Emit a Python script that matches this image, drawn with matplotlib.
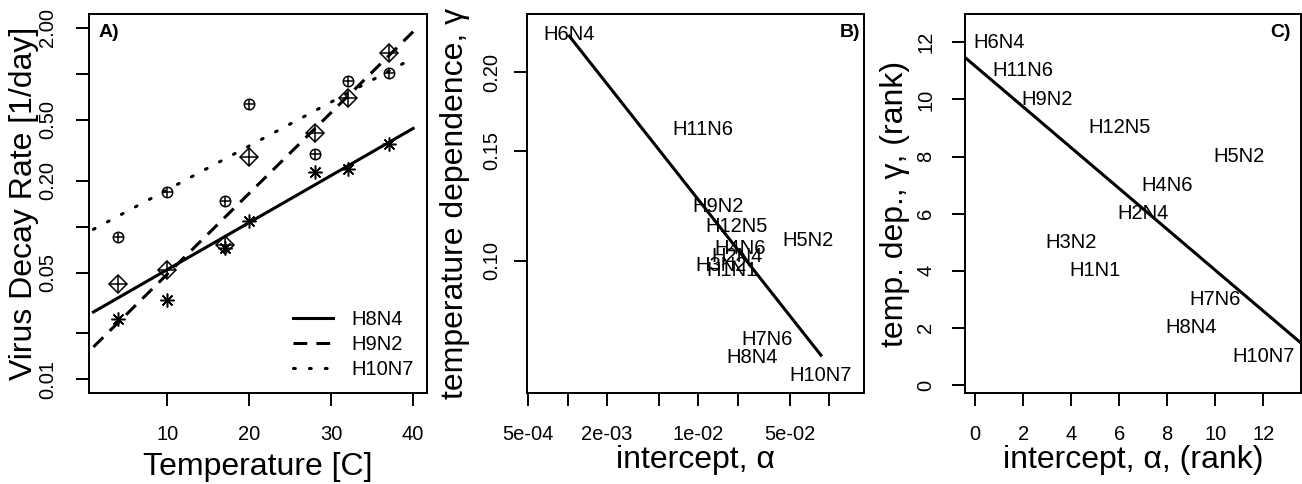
import numpy as np
import matplotlib
matplotlib.use('Agg')
import matplotlib.pyplot as plt
from matplotlib.ticker import FixedLocator, FixedFormatter, NullLocator

plt.rcParams['font.family'] = ['Liberation Sans', 'DejaVu Sans']

# --- A) decay rate vs temperature ---
temps = [4, 10, 17, 20, 28, 32, 37]
rate_h8n4 = [0.025, 0.033, 0.072, 0.109, 0.229, 0.238, 0.346]
rate_h9n2 = [0.042, 0.052, 0.076, 0.284, 0.412, 0.696, 1.37]
rate_h10n7 = [0.086, 0.169, 0.148, 0.633, 0.299, 0.90, 1.01]

# fitted log10(rate) = a + b*T
fit_names = ['H8N4', 'H9N2', 'H10N7']
fit_a = [-1.590, -1.841, -1.0465]
fit_b = [0.03083, 0.05294, 0.02875]
fit_trange = [1, 40]

a_yticks = [0.01, 0.02, 0.05, 0.1, 0.2, 0.5, 1.0, 2.0]
a_ylabels = ['0.01', '', '0.05', '', '0.20', '0.50', '', '2.00']
a_xticks = [10, 20, 30, 40]

# --- B) / C) per-strain intercept and temperature dependence ---
strains = ['H6N4', 'H11N6', 'H9N2', 'H12N5', 'H5N2', 'H4N6',
           'H2N4', 'H3N2', 'H1N1', 'H7N6', 'H8N4', 'H10N7']
alpha = [1.03e-3, 0.0108, 0.0143, 0.01955, 0.0689, 0.0211,
         0.0199, 0.0149, 0.0181, 0.0334, 0.0257, 0.087]
gamma = [0.2296, 0.162, 0.122, 0.1137, 0.1077, 0.1048,
         0.1015, 0.0985, 0.0965, 0.075, 0.0701, 0.0656]
alpha_rank = [1, 2, 3, 6, 11, 8, 7, 4, 5, 10, 9, 12]
gamma_rank = [12, 11, 10, 9, 8, 7, 6, 5, 4, 3, 2, 1]

# log10(gamma) = c0 + c1*log10(alpha)
b_fit = [-1.4305, -0.2642]
# rank fit: gamma_rank = r0 + r1*alpha_rank
c_fit = [11.17, -0.715]

b_xticks = [5e-4, 1e-3, 2e-3, 5e-3, 1e-2, 2e-2, 5e-2, 1e-1]
b_xlabels = ['5e-04', '', '2e-03', '', '1e-02', '', '5e-02', '']
b_yticks = [0.10, 0.15, 0.20]
b_ylabels = ['0.10', '0.15', '0.20']
c_ticks = [0, 2, 4, 6, 8, 10, 12]

LAB = 23
TICK = 14.5
TXT = 14.5

fig = plt.figure(figsize=(13.02, 4.84), dpi=100)
axA = fig.add_axes([0.0686, 0.1874, 0.2594, 0.7837])
axB = fig.add_axes([0.4045, 0.1874, 0.2591, 0.7837])
axC = fig.add_axes([0.7412, 0.1874, 0.2577, 0.7837])

for ax in (axA, axB, axC):
    for s in ax.spines.values():
        s.set_linewidth(1.4)
    ax.tick_params(direction='out', length=9.5, width=1.4, labelsize=TICK, colors='black')
    ax.tick_params(axis='x', pad=13)
    ax.tick_params(axis='y', labelrotation=90)

# ---- panel A ----
axA.set_yscale('log')
styles = [dict(linestyle='-'),
          dict(linestyle=(0, (4.5, 3.0)), dash_capstyle='butt'),
          dict(linestyle=(0, (0.6, 4.6)), dash_capstyle='round')]
for a, b, name, st in zip(fit_a, fit_b, fit_names, styles):
    t = np.linspace(fit_trange[0], fit_trange[1], 200)
    axA.plot(t, 10 ** (a + b * t), color='black', lw=2.2, label=name, **st)

axA.plot(temps, rate_h8n4, linestyle='none', marker=(8, 2, 0), ms=10,
         mec='black', mew=1.1)
axA.plot(temps, rate_h9n2, linestyle='none', marker='D', ms=9, mfc='none',
         mec='black', mew=1.1)
axA.plot(temps, rate_h9n2, linestyle='none', marker='+', ms=11,
         mec='black', mew=1.1)
axA.plot(temps, rate_h10n7, linestyle='none', marker='o', ms=7.5, mfc='none',
         mec='black', mew=1.1)
axA.plot(temps, rate_h10n7, linestyle='none', marker='+', ms=7.5,
         mec='black', mew=1.1)

axA.set_xlim(0.5, 41.7)
axA.set_ylim(0.0081, 2.47)
axA.xaxis.set_major_locator(FixedLocator(a_xticks))
axA.yaxis.set_major_locator(FixedLocator(a_yticks))
axA.yaxis.set_major_formatter(FixedFormatter(a_ylabels))
axA.yaxis.set_minor_locator(NullLocator())
axA.tick_params(axis='y', pad=13.5)
axA.text(0.059, 0.95, 'A)', transform=axA.transAxes, ha='center', va='center',
         fontsize=14, fontweight='bold')
axA.legend(loc='lower right', bbox_to_anchor=(1.003, 0.0), frameon=False,
           fontsize=TXT, handlelength=2.0, handletextpad=0.9,
           labelspacing=0.3, borderpad=0.2)
axA.set_xlabel('Temperature [C]', fontsize=LAB)
axA.set_ylabel('Virus Decay Rate [1/day]', fontsize=LAB)
axA.xaxis.set_label_coords(0.5, -0.2154)
axA.xaxis.label.set_va('baseline')
axA.yaxis.set_label_coords(-0.1697, 0.5)
axA.yaxis.label.set_va('baseline')

# ---- panel B ----
axB.set_xscale('log')
axB.set_yscale('log')
a_line = np.array([min(alpha), max(alpha)])
axB.plot(a_line, 10 ** (b_fit[0] + b_fit[1] * np.log10(a_line)), color='black', lw=2.2)
for name, x, y in zip(strains, alpha, gamma):
    axB.text(x, y, name, ha='center', va='center', fontsize=TXT)
axB.set_xlim(4.85e-4, 0.186)
axB.set_ylim(0.0615, 0.2478)
axB.xaxis.set_major_locator(FixedLocator(b_xticks))
axB.xaxis.set_major_formatter(FixedFormatter(b_xlabels))
axB.xaxis.set_minor_locator(NullLocator())
axB.yaxis.set_major_locator(FixedLocator(b_yticks))
axB.yaxis.set_major_formatter(FixedFormatter(b_ylabels))
axB.yaxis.set_minor_locator(NullLocator())
axB.tick_params(axis='y', pad=8.5)
axB.text(0.958, 0.95, 'B)', transform=axB.transAxes, ha='center', va='center',
         fontsize=14, fontweight='bold')
axB.set_xlabel('intercept, α', fontsize=LAB)
axB.set_ylabel('temperature dependence, γ', fontsize=LAB)
axB.xaxis.set_label_coords(0.5, -0.1977)
axB.xaxis.label.set_va('baseline')
axB.yaxis.set_label_coords(-0.188, 0.5)
axB.yaxis.label.set_va('baseline')

# ---- panel C ----
axC.axline((0, c_fit[0]), slope=c_fit[1], color='black', lw=2.2)
for name, x, y in zip(strains, alpha_rank, gamma_rank):
    axC.text(x, y, name, ha='center', va='center', fontsize=TXT)
axC.set_xlim(-0.415, 13.55)
axC.set_ylim(-0.29, 12.99)
axC.xaxis.set_major_locator(FixedLocator(c_ticks))
axC.yaxis.set_major_locator(FixedLocator(c_ticks))
axC.tick_params(axis='y', pad=12)
axC.text(0.941, 0.95, 'C)', transform=axC.transAxes, ha='center', va='center',
         fontsize=14, fontweight='bold')
axC.set_xlabel('intercept, α, (rank)', fontsize=LAB)
axC.set_ylabel('temp. dep., γ, (rank)', fontsize=LAB)
axC.xaxis.set_label_coords(0.5, -0.1977)
axC.xaxis.label.set_va('baseline')
axC.yaxis.set_label_coords(-0.1838, 0.5)
axC.yaxis.label.set_va('baseline')

for ax in (axA, axB, axC):
    for lab in ax.get_yticklabels():
        lab.set_va('center')

fig.savefig('out.png', dpi=100)
